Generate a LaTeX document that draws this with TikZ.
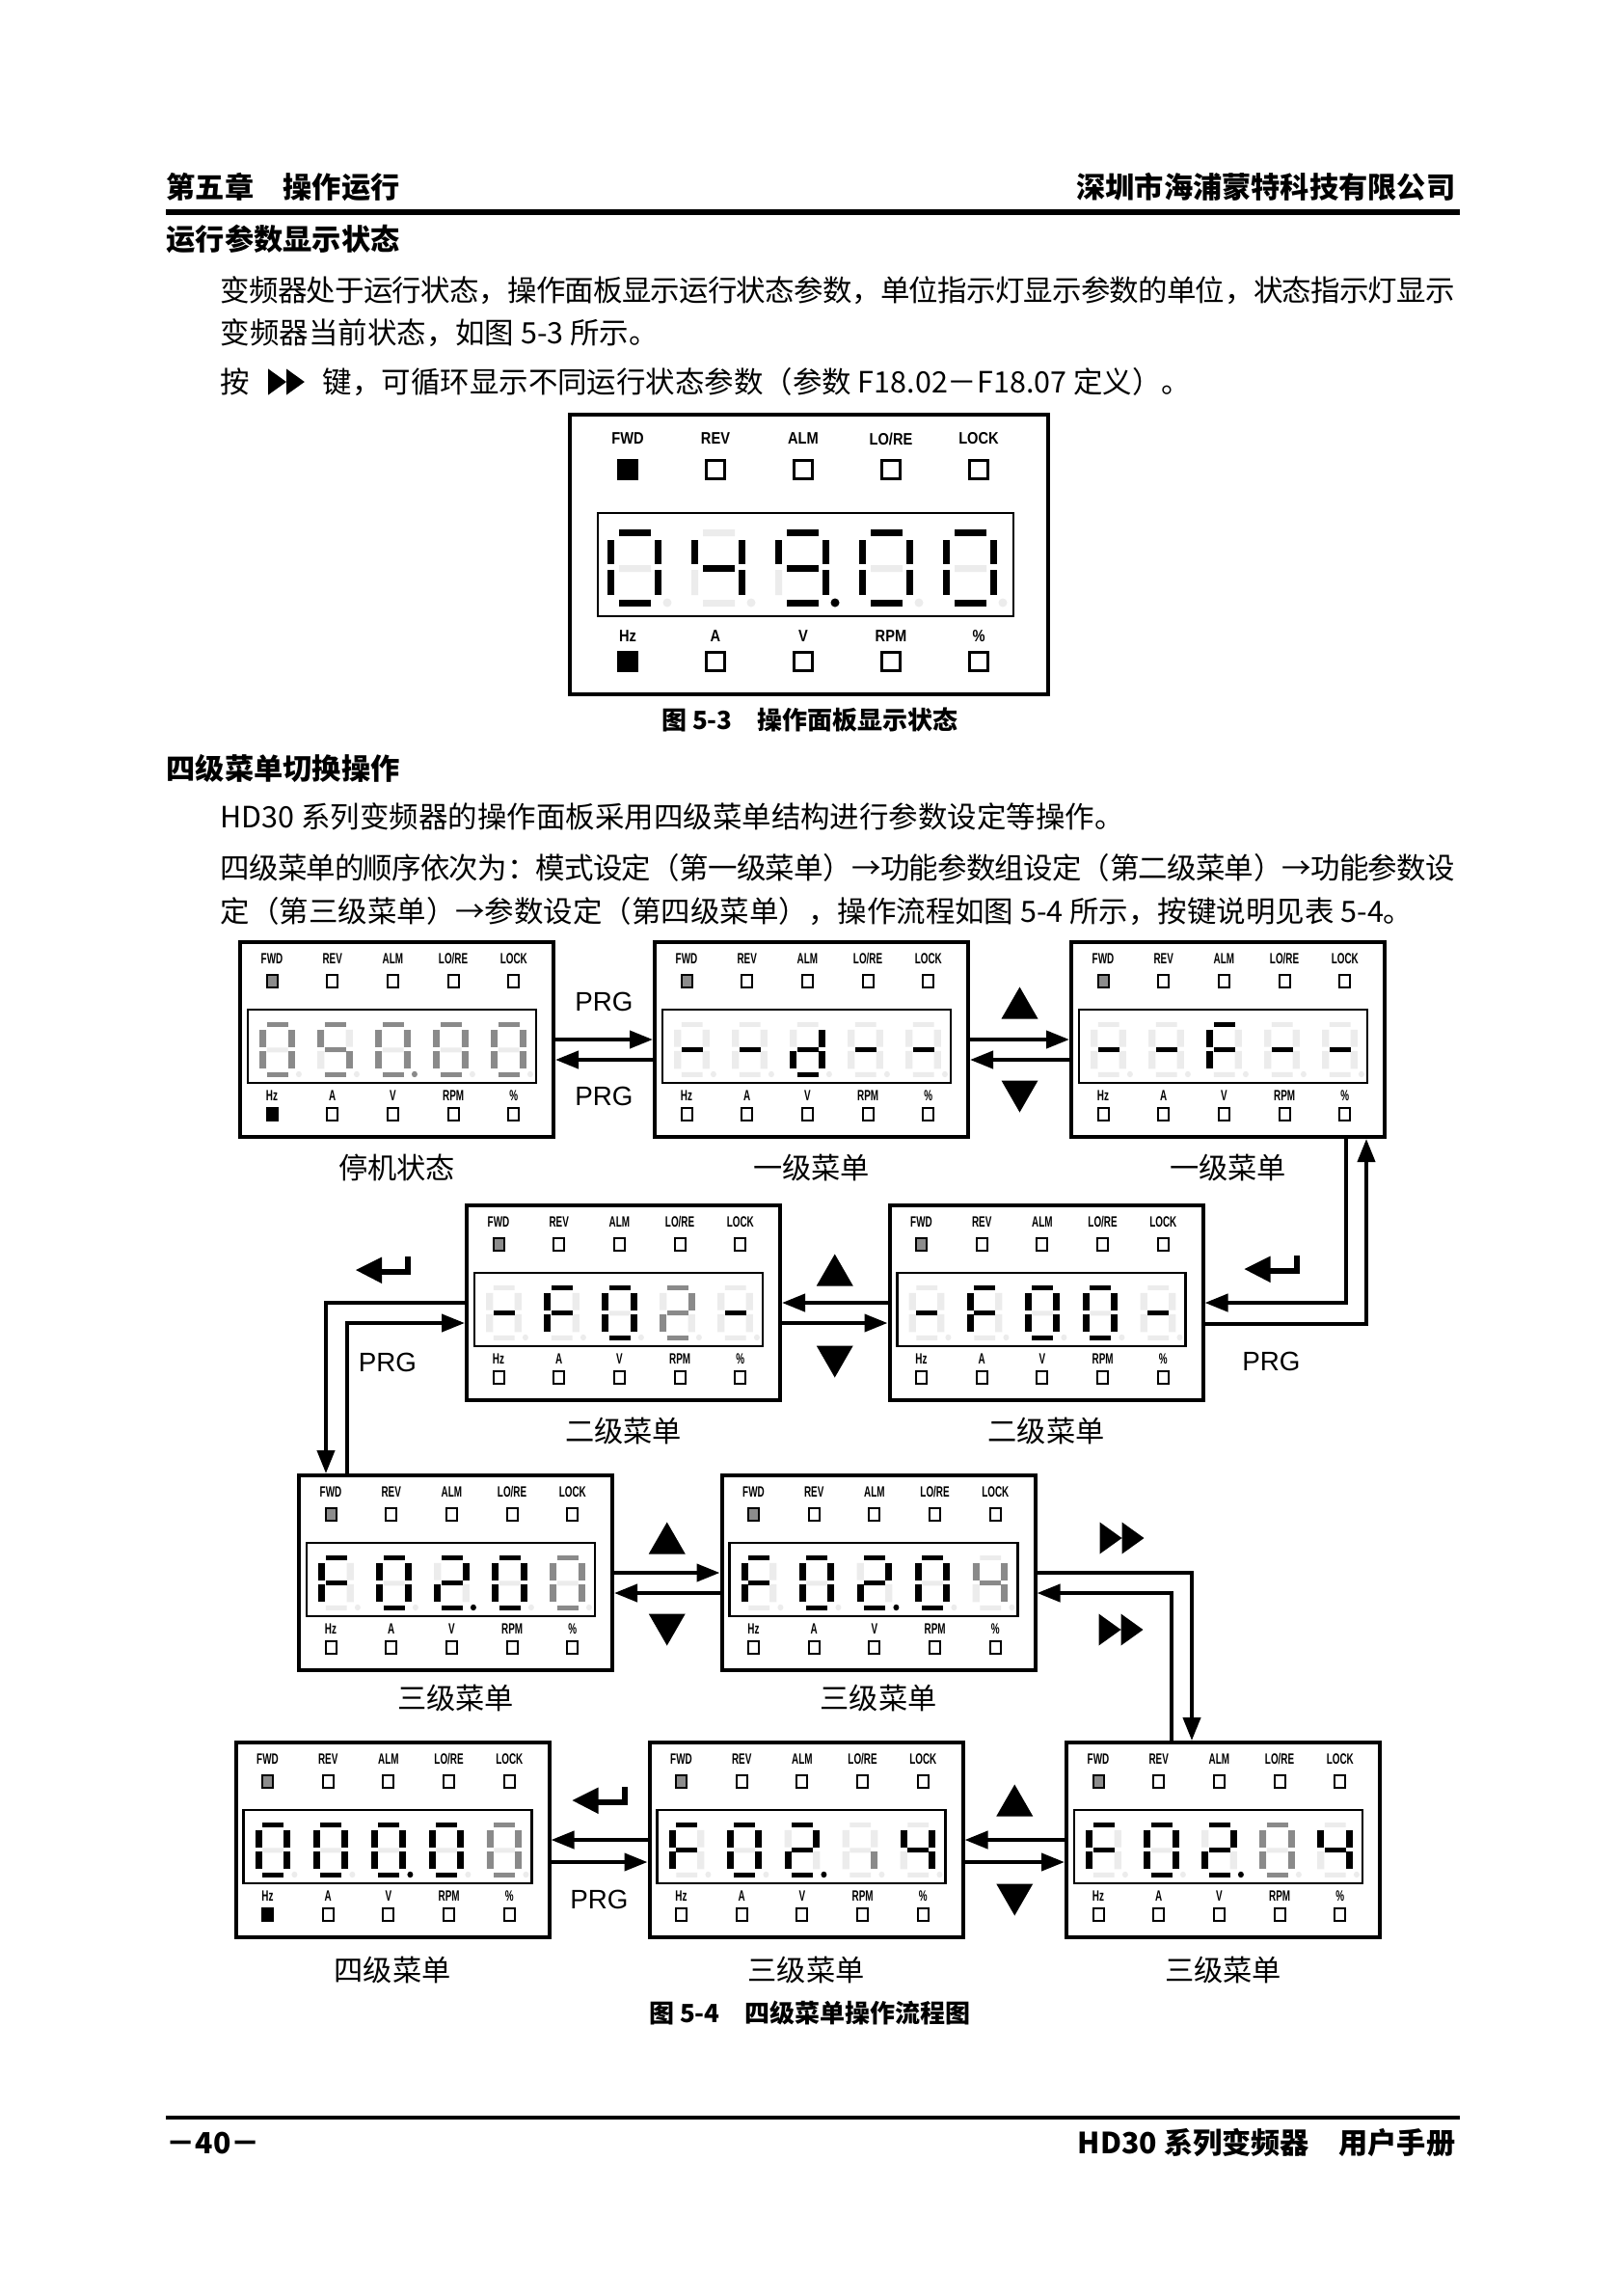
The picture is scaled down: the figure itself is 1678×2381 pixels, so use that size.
\documentclass[tikz,border=0pt]{standalone}
\usepackage{fontspec}
\setmainfont{Noto Sans CJK SC}
\newfontfamily\ledfont[FakeStretch=0.64]{Liberation Sans}
\newfontfamily\ledfontwide[FakeStretch=0.85]{Liberation Sans}
\newfontfamily\keyfont{Liberation Sans}
\XeTeXlinebreaklocale "zh"
\XeTeXlinebreakskip=0pt plus 1pt minus 0.6pt
\usetikzlibrary{arrows.meta,positioning,calc}
\definecolor{segoff}{RGB}{236,236,236}
\definecolor{segdim}{RGB}{138,138,138}
\definecolor{ledgray}{RGB}{140,140,140}
\newcommand\segv{7}
\tikzset{
  panel/.style={draw,line width=0.4mm,minimum width=32.5mm,minimum height=20.2mm,inner sep=0pt},
  bigpanel/.style={draw,line width=0.4mm,minimum width=49.6mm,minimum height=29mm,inner sep=0pt},
  dispbox/.style={draw,line width=0.25mm},
  flow/.style={line width=0.4mm,-{Triangle[length=2.4mm,width=1.8mm]}},
  ledsq/.style={draw,line width=0.2mm,minimum width=1.1mm,minimum height=1.3mm,inner sep=0pt},
  bigledsq/.style={draw,line width=0.3mm,minimum size=1.9mm,inner sep=0pt},
  ledtxt/.style={font=\ledfont\bfseries\fontsize{4.4pt}{5pt}\selectfont,inner sep=0pt},
  bigledtxt/.style={font=\ledfontwide\bfseries\fontsize{4.9pt}{5.5pt}\selectfont,inner sep=0pt},
  smalldig/.style={xscale=0.66,yscale=0.71,/utils/exec={\def\segv{11}}},
  bodytxt/.style={font=\fontsize{8.67pt}{10pt}\selectfont,inner sep=0pt,anchor=west},
  justline/.style={bodytxt,text width=128mm,align=justify},
  headtxt/.style={font=\bfseries\fontsize{8.6pt}{10pt}\selectfont,inner sep=0pt},
  figcap/.style={font=\bfseries\fontsize{7.4pt}{9pt}\selectfont,inner sep=0pt},
  menulab/.style={font=\fontsize{8.6pt}{10pt}\selectfont,inner sep=0pt},
  keylab/.style={font=\keyfont\fontsize{7.9pt}{9pt}\selectfont,inner sep=0pt},
  upkey/.pic={\fill (-19,16.5) -- (19,16.5) -- (0,-16.5) -- cycle;},
  downkey/.pic={\fill (-19,-16.5) -- (19,-16.5) -- (0,16.5) -- cycle;},
  shiftkey/.pic={\fill (-23,-16.5) -- (0,0) -- (-23,16.5) -- cycle
    (0,-16.5) -- (23,0) -- (0,16.5) -- cycle;},
  enterkey/.pic={\fill (-28,0) -- (-1,-13.5) -- (-1,14) -- cycle;
    \fill (-2,-1) rectangle (29,5); \fill (23,-14) rectangle (29,5);}
}
% segment patterns a b c d e f g
\newcommand\sgZero{1111110}
\newcommand\sgTwo{1101101}
\newcommand\sgFour{0110011}
\newcommand\sgFive{1011011}
\newcommand\sgNine{1111011}
\newcommand\sgF{1000111}
\newcommand\sgD{0111101}
\newcommand\sgDash{0000001}
\newcommand\sgLow{0010000}
% #1 lit colour, #2-#8 segments a-g, #9 decimal point
\newcommand\ledsegs[9]{%
  \fill[segoff] (12,0) rectangle (45,7) (56-\segv,11) rectangle (56,36) (56-\segv,42) rectangle (56,68)
    (12,73) rectangle (45,80) (0,42) rectangle (\segv,68) (0,11) rectangle (\segv,36)
    (12,37) rectangle (45,44) (62,76) circle[radius=4.5];
  \ifnum#2=1 \fill[#1] (12,0) rectangle (45,7);\fi
  \ifnum#3=1 \fill[#1] (56-\segv,11) rectangle (56,36);\fi
  \ifnum#4=1 \fill[#1] (56-\segv,42) rectangle (56,68);\fi
  \ifnum#5=1 \fill[#1] (12,73) rectangle (45,80);\fi
  \ifnum#6=1 \fill[#1] (0,42) rectangle (\segv,68);\fi
  \ifnum#7=1 \fill[#1] (0,11) rectangle (\segv,36);\fi
  \ifnum#8=1 \fill[#1] (12,37) rectangle (45,44);\fi
  \ifnum#9=1 \fill[#1] (62,76) circle[radius=4.5];\fi}
\newcommand\ledigit[4]{%
  \begin{scope}[shift={#1},#2]
    \edef\segtmp{\noexpand\ledsegs{#3}#4}\segtmp
  \end{scope}}
% #1 name, #2 centre, #3 digits colour/pattern, #4 Hz lamp
\newcommand\menupanel[4]{%
  \node[panel] (#1) at #2 {};
  \begin{scope}[shift={(#1.north west)}]
    \foreach \lab [count=\i from 0] in {FWD,REV,ALM,LO/RE,LOCK}
      \node[ledtxt] (#1-t\i) at (35+62.7*\i,19) {\lab};
    \foreach \lamp [count=\i from 0] in {ledgray,white,white,white,white}
      \node[ledsq,fill=\lamp] (#1-l\i) at (35+62.7*\i,42) {};
    \draw[dispbox] (10,72) rectangle (309,148);
    \foreach \dcol/\dpat [count=\i from 0] in {#3}
      {\ledigit{(22+60*\i,85)}{smalldig}{\dcol}{\dpat}}
    \foreach \lab [count=\i from 0] in {Hz,A,V,RPM,\%}
      \node[ledtxt] (#1-b\i) at (35+62.7*\i,161) {\lab};
    \foreach \lamp [count=\i from 0] in {#4,white,white,white,white}
      \node[ledsq,fill=\lamp] (#1-u\i) at (35+62.7*\i,180) {};
  \end{scope}}

\begin{document}
\begin{tikzpicture}[x=0.1mm,y=-0.1mm]
  \fill[white] (0,0) rectangle (1678,2381);
  \useasboundingbox (0,0) rectangle (1678,2381);
  % page header
  \node[headtxt,anchor=west] (chap) at (172,194) {第五章　操作运行};
  \node[headtxt,anchor=east] (corp) at (1510,194) {深圳市海浦蒙特科技有限公司};
  \draw[line width=0.6mm] (172,220) -- (1514,220);
  \node[headtxt,anchor=west] (sec1) at (172,248) {运行参数显示状态};
  \node[justline] (t1) at (228,301) {\noindent\parfillskip=0pt 变频器处于运行状态，操作面板显示运行状态参数，单位指示灯显示参数的单位，状态指示灯显示\par};
  \node[bodytxt] (t2) at (228,345) {变频器当前状态，如图 5-3 所示。};
  \node[bodytxt] (t3a) at (228,396) {按};
  \pic[scale=0.82] at (297,396) {shiftkey};
  \node[bodytxt] (t3b) at (334,396) {键，可循环显示不同运行状态参数（参数 F18.02－F18.07 定义）。};

  % figure 5-3
  \node[bigpanel] (fig53) at (839,575) {};
  \begin{scope}[shift={(fig53.north west)}]
    \foreach \lab [count=\i from 0] in {FWD,REV,ALM,LO/RE,LOCK}
      \node[bigledtxt] (fig53-t\i) at (62+91*\i,27) {\lab};
    \foreach \lamp [count=\i from 0] in {black,white,white,white,white}
      \node[bigledsq,fill=\lamp] (fig53-l\i) at (62+91*\i,59) {};
    \draw[dispbox] (31,104) rectangle (462,211);
    \foreach \dpat [count=\i from 0] in {\sgZero0,\sgFour0,\sgNine1,\sgZero0,\sgZero0}
      {\ledigit{(41+87*\i,121)}{}{black}{\dpat}}
    \foreach \lab [count=\i from 0] in {Hz,A,V,RPM,\%}
      \node[bigledtxt] (fig53-b\i) at (62+91*\i,232) {\lab};
    \foreach \lamp [count=\i from 0] in {black,white,white,white,white}
      \node[bigledsq,fill=\lamp] (fig53-u\i) at (62+91*\i,258) {};
  \end{scope}
  \node[figcap] (cap53) at (840,747) {图 5-3　操作面板显示状态};

  \node[headtxt,anchor=west] (sec2) at (172,797) {四级菜单切换操作};
  \node[bodytxt] (t4) at (228,847) {HD30 系列变频器的操作面板采用四级菜单结构进行参数设定等操作。};
  \node[justline] (t5) at (228,900) {\noindent\parfillskip=0pt 四级菜单的顺序依次为：模式设定（第一级菜单）→功能参数组设定（第二级菜单）→功能参数设\par};
  \node[bodytxt] (t6) at (228,945) {定（第三级菜单）→参数设定（第四级菜单），操作流程如图 5-4 所示，按键说明见表 5-4。};

  % figure 5-4 panels
  \menupanel{p1}{(411.5,1078)}{segdim/\sgZero0,segdim/\sgFive0,segdim/\sgZero1,segdim/\sgZero0,segdim/\sgZero0}{black}
  \menupanel{p2}{(841.5,1078)}{black/\sgDash0,black/\sgDash0,black/\sgD0,black/\sgDash0,black/\sgDash0}{white}
  \menupanel{p3}{(1273.5,1078)}{black/\sgDash0,black/\sgDash0,black/\sgF0,black/\sgDash0,black/\sgDash0}{white}
  \menupanel{p4}{(646.5,1351)}{black/\sgDash0,black/\sgF0,black/\sgZero0,segdim/\sgTwo0,black/\sgDash0}{white}
  \menupanel{p5}{(1085,1351)}{black/\sgDash0,black/\sgF0,black/\sgZero0,black/\sgZero0,black/\sgDash0}{white}
  \menupanel{p6}{(472.5,1631)}{black/\sgF0,black/\sgZero0,black/\sgTwo1,black/\sgZero0,segdim/\sgZero0}{white}
  \menupanel{p7}{(911,1631)}{black/\sgF0,black/\sgZero0,black/\sgTwo1,black/\sgZero0,segdim/\sgFour0}{white}
  \menupanel{p8}{(407,1908)}{black/\sgZero0,black/\sgZero0,black/\sgZero1,black/\sgZero0,segdim/\sgZero0}{black}
  \menupanel{p9}{(836,1908)}{black/\sgF0,black/\sgZero0,black/\sgTwo1,segdim/\sgLow0,black/\sgFour0}{white}
  \menupanel{p10}{(1268.5,1908)}{black/\sgF0,black/\sgZero0,black/\sgTwo1,segdim/\sgZero0,black/\sgFour0}{white}

  \node[menulab,below=1.5mm of p1] (p1-name) {停机状态};
  \node[menulab,below=1.5mm of p2] (p2-name) {一级菜单};
  \node[menulab,below=1.5mm of p3] (p3-name) {一级菜单};
  \node[menulab,below=1.5mm of p4] (p4-name) {二级菜单};
  \node[menulab,below=1.5mm of p5] (p5-name) {二级菜单};
  \node[menulab,below=1.2mm of p6] (p6-name) {三级菜单};
  \node[menulab,below=1.2mm of p7] (p7-name) {三级菜单};
  \node[menulab,below=1.7mm of p8] (p8-name) {四级菜单};
  \node[menulab,below=1.7mm of p9] (p9-name) {三级菜单};
  \node[menulab,below=1.7mm of p10] (p10-name) {三级菜单};

  % row 1
  \draw[flow] (p1.east) -- (p2.west);
  \draw[flow] ($(p2.west)+(0,21)$) -- ($(p1.east)+(0,21)$);
  \node[keylab] (prg1) at ($(p1.east)!0.5!(p2.west)+(0,-39)$) {PRG};
  \node[keylab] (prg2) at ($(p1.east)!0.5!(p2.west)+(0,59)$) {PRG};
  \draw[flow] (p2.east) -- (p3.west);
  \draw[flow] ($(p3.west)+(0,21)$) -- ($(p2.east)+(0,21)$);
  \pic at ($(p2.east)!0.5!(p3.west)+(0,-38)$) {upkey};
  \pic at ($(p2.east)!0.5!(p3.west)+(0,59)$) {downkey};
  % right side, p3 <-> p5
  \draw[flow] ($(p3.south east)+(-42,0)$) |- (p5.east);
  \draw[flow] ($(p5.east)+(0,22)$) -| ($(p3.south east)+(-21,0)$);
  \pic at ($(p5.east)+(69,-35)$) {enterkey};
  \node[keylab] (prg3) at ($(p5.east)+(69,61)$) {PRG};
  % row 2
  \draw[flow] (p5.west) -- (p4.east);
  \draw[flow] ($(p4.east)+(0,21)$) -- ($(p5.west)+(0,21)$);
  \pic at ($(p4.east)!0.5!(p5.west)+(0,-34)$) {upkey};
  \pic at ($(p4.east)!0.5!(p5.west)+(0,61)$) {downkey};
  % left side, p4 <-> p6
  \draw[flow] (p4.west) -| ($(p6.north west)+(30,0)$);
  \draw[flow] ($(p6.north west)+(52,0)$) |- ($(p4.west)+(0,21)$);
  \pic at ($(p4.west)+(-85,-34)$) {enterkey};
  \node[keylab] (prg4) at ($(p4.west)+(-80,62)$) {PRG};
  % row 3
  \draw[flow] (p6.east) -- (p7.west);
  \draw[flow] ($(p7.west)+(0,21)$) -- ($(p6.east)+(0,21)$);
  \pic at ($(p6.east)!0.5!(p7.west)+(0,-36)$) {upkey};
  \pic at ($(p6.east)!0.5!(p7.west)+(0,59)$) {downkey};
  % right side, p7 <-> p10
  \draw[flow] (p7.east) -| ($(p10.north west)+(132,0)$);
  \draw[flow] ($(p10.north west)+(111,0)$) |- ($(p7.east)+(0,21)$);
  \pic at ($(p7.east)+(88,-36)$) {shiftkey};
  \pic at ($(p7.east)+(87,59)$) {shiftkey};
  % row 4
  \draw[flow] (p9.west) -- (p8.east);
  \draw[flow] ($(p8.east)+(0,23)$) -- ($(p9.west)+(0,23)$);
  \pic at ($(p8.east)!0.5!(p9.west)+(0,-41)$) {enterkey};
  \node[keylab] (prg5) at ($(p8.east)!0.5!(p9.west)+(0,62)$) {PRG};
  \draw[flow] (p10.west) -- (p9.east);
  \draw[flow] ($(p9.east)+(0,23)$) -- ($(p10.west)+(0,23)$);
  \pic at ($(p9.east)!0.5!(p10.west)+(0,-41)$) {upkey};
  \pic at ($(p9.east)!0.5!(p10.west)+(0,62)$) {downkey};

  \node[figcap] (cap54) at (840,2088) {图 5-4　四级菜单操作流程图};

  % page footer
  \draw[line width=0.45mm] (172,2196) -- (1514,2196);
  \node[headtxt,anchor=west] (pageno) at (172,2222) {－40－};
  \node[headtxt,anchor=east] (manual) at (1510,2222) {HD30 系列变频器　用户手册};
\end{tikzpicture}
\end{document}
